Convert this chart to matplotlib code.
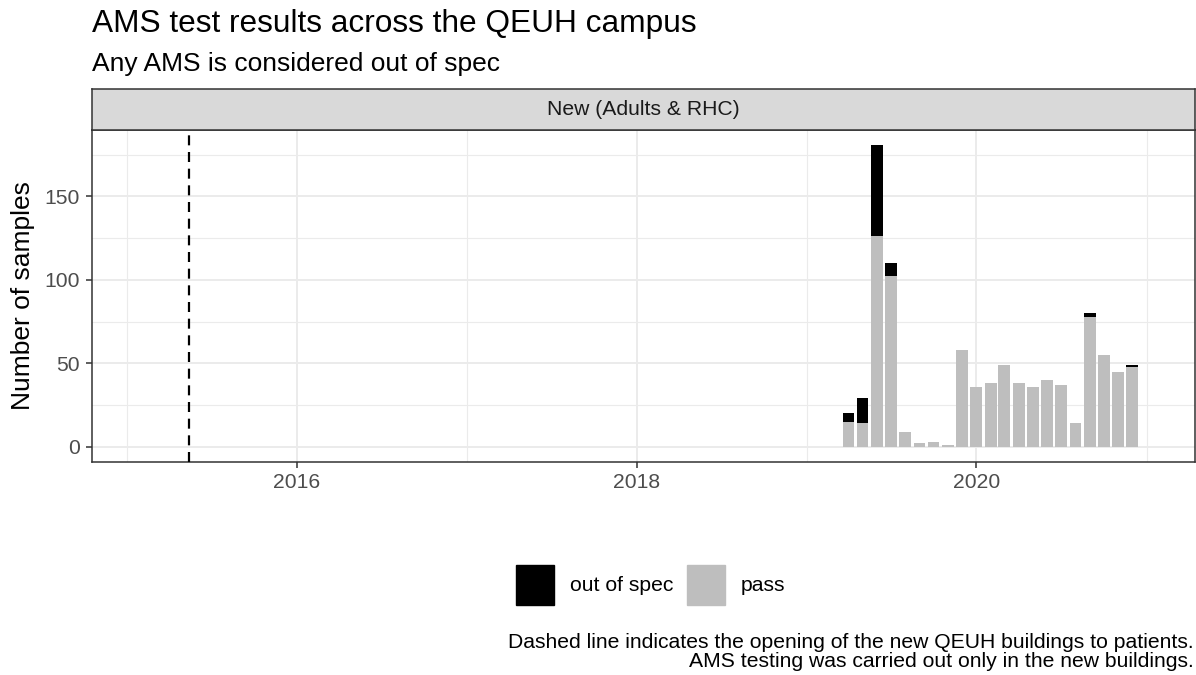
import datetime as dt
import numpy as np
import matplotlib
matplotlib.use("Agg")
import matplotlib.pyplot as plt
import matplotlib.dates as mdates
from matplotlib.patches import Patch

plt.rcParams['font.family'] = ['Liberation Sans', 'DejaVu Sans']

# monthly AMS sample counts, new buildings (Adults & RHC)
months = ['2019-04', '2019-05', '2019-06', '2019-07', '2019-08', '2019-09',
          '2019-10', '2019-11', '2019-12', '2020-01', '2020-02', '2020-03',
          '2020-04', '2020-05', '2020-06', '2020-07', '2020-08', '2020-09',
          '2020-10', '2020-11', '2020-12']
n_pass = [15, 14, 126, 102, 9, 2, 3, 1, 58, 36, 38, 49,
          38, 36, 40, 37, 14, 78, 55, 45, 48]
n_out = [5, 15, 55, 8, 0, 0, 0, 0, 0, 0, 0, 0,
         0, 0, 0, 0, 0, 2, 0, 0, 1]
opening_date = dt.date(2015, 5, 14)

dates = [dt.datetime.strptime(m + '-01', '%Y-%m-%d') for m in months]
x = mdates.date2num(dates)
n_pass = np.array(n_pass)
n_out = np.array(n_out)
ymax = (n_pass + n_out).max()

small = 15.2

fig = plt.figure(figsize=(11.96, 6.75), dpi=100)
ax = fig.add_axes([0.0772, 0.316, 0.922, 0.492])

ax.bar(x, n_pass, width=25.2, color='#BEBEBE', zorder=3)
ax.bar(x, n_out, bottom=n_pass, width=25.2, color='black', zorder=3)
ax.axvline(mdates.date2num(opening_date), color='black', lw=1.6,
           dashes=(4.5, 3), zorder=4)

ax.set_xlim(mdates.date2num(dt.date(2014, 10, 19)),
            mdates.date2num(dt.date(2021, 4, 15)))
ax.set_ylim(-0.05 * ymax, 1.05 * ymax)

ax.xaxis.set_major_locator(mdates.YearLocator(2))
ax.set_xticks([mdates.date2num(dt.date(y, 1, 1)) for y in (2015, 2017, 2019, 2021)], minor=True)
ax.xaxis.set_major_formatter(mdates.DateFormatter('%Y'))
ax.set_yticks([0, 50, 100, 150])
ax.set_yticks([25, 75, 125, 175], minor=True)

ax.grid(which='major', color='#EBEBEB', lw=1.4, zorder=0)
ax.grid(which='minor', color='#EBEBEB', lw=0.8, zorder=0)
ax.tick_params(which='major', length=4.6, width=1.1, color='#333333',
               labelsize=small, labelcolor='#4D4D4D')
ax.tick_params(axis='y', pad=4.2)
ax.tick_params(axis='x', pad=3.6)
ax.tick_params(which='minor', length=0)
for s in ax.spines.values():
    s.set_color('#333333')
    s.set_linewidth(1.1)

fig.text(23 / 1196, 1 - 295.6 / 675, 'Number of samples', rotation=90,
         ha='center', va='center', fontsize=19)

# facet strip
strip = fig.add_axes([0.0772, 0.808, 0.922, 0.0597])
strip.set_facecolor('#D9D9D9')
strip.set_xticks([])
strip.set_yticks([])
for s in strip.spines.values():
    s.set_color('#333333')
    s.set_linewidth(1.1)
strip.text(0.5, 0.5, 'New (Adults & RHC)', ha='center', va='center',
           fontsize=small, color='#1A1A1A', transform=strip.transAxes)

fig.text(0.077, 0.953, 'AMS test results across the QEUH campus',
         fontsize=22.8, va='baseline')
fig.text(0.077, 0.8948, 'Any AMS is considered out of spec',
         fontsize=19, va='baseline')

handles = [Patch(color='black', label='out of spec'),
           Patch(color='#BEBEBE', label='pass')]
fig.legend(handles=handles, loc='center', bbox_to_anchor=(0.544, 0.1333),
           ncol=2, frameon=False, fontsize=small, handlelength=1.8,
           handleheight=2.5, handletextpad=0.74, columnspacing=0.68,
           borderpad=0)

fig.text(0.998, 1 - 648.3 / 675,
         'Dashed line indicates the opening of the new QEUH buildings to patients.',
         ha='right', va='baseline', fontsize=small)
fig.text(0.998, 1 - 666.7 / 675,
         'AMS testing was carried out only in the new buildings.',
         ha='right', va='baseline', fontsize=small)

fig.savefig('out.png', dpi=100)
